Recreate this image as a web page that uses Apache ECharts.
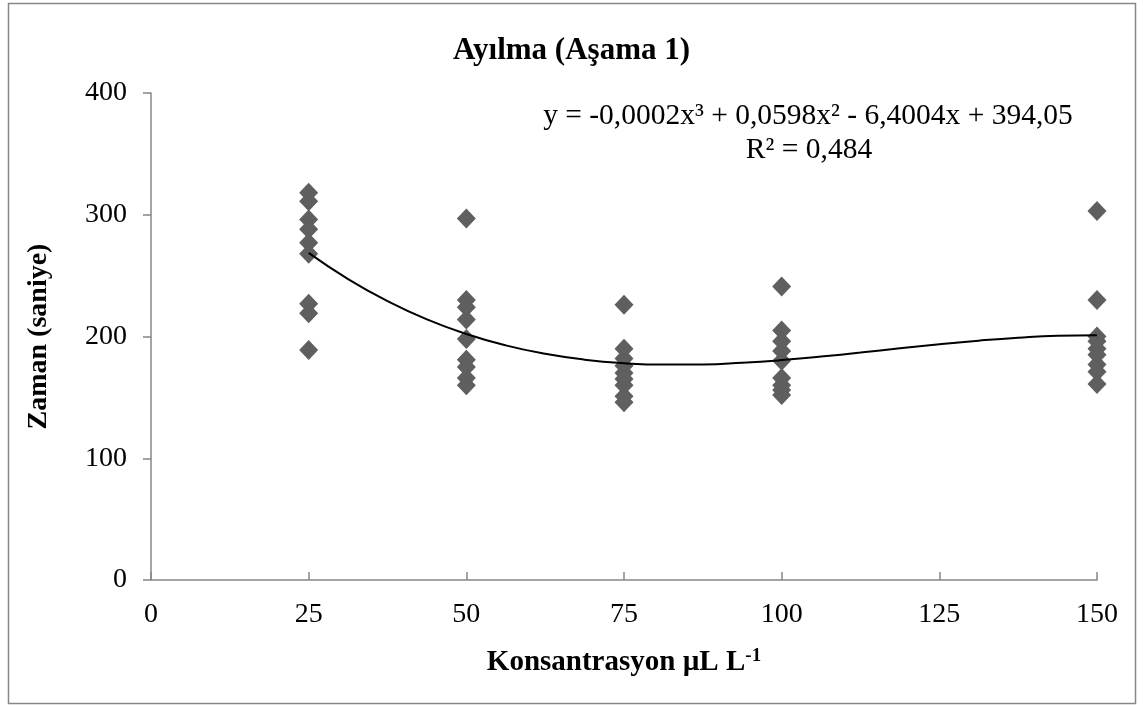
<!DOCTYPE html>
<html>
<head>
<meta charset="utf-8">
<script src="https://cdn.jsdelivr.net/npm/echarts@6/dist/echarts.min.js"></script>
<style>
html,body{margin:0;padding:0;background:#fff;}
#chart{width:1143px;height:706px;}
</style>
</head>
<body>
<div id="chart"></div>
<script>
// Data
var conc25 = [318, 311, 296, 288, 277, 268, 227, 219, 189];
var conc50 = [297, 230, 224, 214, 198, 181, 175, 166, 160];
var conc75 = [226, 190, 182, 176, 170, 165, 160, 151, 146];
var conc100 = [241, 205, 196, 188, 180, 166, 160, 156, 152];
var conc150 = [303, 230, 200, 196, 190, 185, 177, 171, 161];
var groupX = [25, 50, 75, 100, 150];
var groups = [conc25, conc50, conc75, conc100, conc150];

// Trend curve values
var trendX = [25, 31.25, 37.5, 43.75, 50, 56.25, 62.5, 68.75, 75, 81.25, 87.5, 93.75, 100, 106.25, 112.5, 118.75, 125, 131.25, 137.5, 143.75, 150];
var trendY = [268.7, 247.2, 229.1, 214.1, 202.1, 192.7, 185.8, 181.0, 178.1, 176.9, 177.0, 178.4, 180.6, 183.5, 186.8, 190.3, 193.6, 196.6, 199.0, 200.6, 201.0];

var xTicks = [0, 25, 50, 75, 100, 125, 150];
var yTicks = [0, 100, 200, 300, 400];

var titleText = 'Ayılma (Aşama 1)';
var eqLine1 = 'y = -0,0002x³ + 0,0598x² - 6,4004x + 394,05';
var eqLine2 = 'R² = 0,484';

var scatterData = [];
groups.forEach(function (g, i) {
  g.forEach(function (v) { scatterData.push([groupX[i], v]); });
});
var trendData = trendX.map(function (x, i) { return [x, trendY[i]]; });

var FONT = '"Liberation Serif", "Times New Roman", serif';
var axisColor = '#878787';

var chart = echarts.init(document.getElementById('chart'), null, {renderer: 'canvas'});
chart.setOption({
  animation: false,
  backgroundColor: '#ffffff',
  textStyle: {fontFamily: FONT},
  title: {
    text: titleText,
    left: 'center',
    top: 30,
    textStyle: {fontFamily: FONT, fontSize: 31, fontWeight: 'bold', color: '#000'}
  },
  grid: {left: 151, right: 46, top: 93, bottom: 126, containLabel: false},
  xAxis: {
    type: 'value',
    min: xTicks[0],
    max: xTicks[xTicks.length - 1],
    interval: 25,
    name: '{b|Konsantrasyon µL L}{s|-1}',
    nameLocation: 'middle',
    nameGap: 67,
    nameTextStyle: {
      rich: {
        b: {fontFamily: FONT, fontSize: 29, fontWeight: 'bold', color: '#000'},
        s: {fontFamily: FONT, fontSize: 19, fontWeight: 'bold', color: '#000', verticalAlign: 'top', padding: [0, 0, 12, 0]}
      }
    },
    axisLine: {show: true, onZero: false, lineStyle: {color: axisColor, width: 1.5}},
    axisTick: {show: true, inside: true, length: 8, lineStyle: {color: axisColor, width: 1.5}},
    axisLabel: {fontFamily: FONT, fontSize: 28, color: '#000', margin: 21},
    splitLine: {show: false}
  },
  yAxis: {
    type: 'value',
    min: yTicks[0],
    max: yTicks[yTicks.length - 1],
    interval: 100,
    name: 'Zaman (saniye)',
    nameLocation: 'middle',
    nameGap: 98,
    nameTextStyle: {fontFamily: FONT, fontSize: 28, fontWeight: 'bold', color: '#000'},
    axisLine: {show: true, lineStyle: {color: axisColor, width: 1.5}},
    axisTick: {show: true, inside: false, length: 8, lineStyle: {color: axisColor, width: 1.5}},
    axisLabel: {fontFamily: FONT, fontSize: 28, color: '#000', margin: 24},
    splitLine: {show: false}
  },
  series: [
    {
      type: 'line',
      data: trendData,
      smooth: true,
      showSymbol: false,
      symbol: 'none',
      lineStyle: {color: '#000', width: 2},
      z: 3
    },
    {
      type: 'scatter',
      data: scatterData,
      symbol: 'diamond',
      symbolSize: [19, 20],
      itemStyle: {color: '#5f5f5f', opacity: 1},
      z: 2
    }
  ],
  graphic: [
    {
      type: 'rect',
      shape: {x: 8.5, y: 3.5, width: 1127, height: 700},
      style: {fill: null, stroke: axisColor, lineWidth: 1.5},
      silent: true
    },
    {
      type: 'text',
      x: 808, y: 116,
      style: {text: eqLine1, font: '29.5px ' + FONT, fill: '#000', textAlign: 'center', textVerticalAlign: 'middle'}
    },
    {
      type: 'text',
      x: 809, y: 150,
      style: {text: eqLine2, font: '29.5px ' + FONT, fill: '#000', textAlign: 'center', textVerticalAlign: 'middle'}
    }
  ]
});
</script>
</body>
</html>
